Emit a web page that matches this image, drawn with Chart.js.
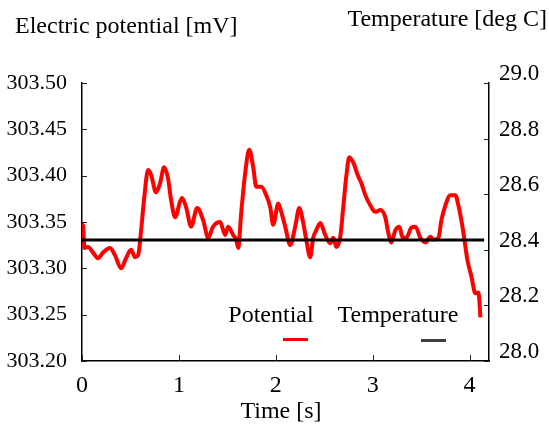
<!DOCTYPE html>
<html>
<head>
<meta charset="utf-8">
<script src="https://cdn.jsdelivr.net/npm/chart.js@4.4.1/dist/chart.umd.min.js"></script>
<style>
  html, body { margin: 0; padding: 0; background: #fff; }
  canvas { display: block; }
</style>
</head>
<body>
<canvas id="chart" width="549" height="428"></canvas>
<script>
// Potential trace (time in s, potential in mV)
const timeS = [
  0, 0.01, 0.025, 0.062, 0.114, 0.165, 0.217, 0.289, 0.341, 0.403,
  0.455, 0.506, 0.548, 0.579, 0.610, 0.640, 0.682, 0.713, 0.764, 0.806,
  0.847, 0.888, 0.919, 0.961, 1.012, 1.033, 1.074, 1.126, 1.188, 1.250,
  1.302, 1.353, 1.426, 1.477, 1.508, 1.560, 1.591, 1.612, 1.643, 1.684,
  1.725, 1.767, 1.798, 1.849, 1.901, 1.942, 1.973, 2.025, 2.056, 2.097,
  2.149, 2.200, 2.242, 2.283, 2.314, 2.355, 2.386, 2.417, 2.459, 2.510,
  2.562, 2.593, 2.624, 2.665, 2.696, 2.727, 2.758, 2.800, 2.851, 2.882,
  2.924, 2.975, 3.027, 3.079, 3.130, 3.161, 3.192, 3.233, 3.275, 3.306,
  3.347, 3.399, 3.440, 3.492, 3.543, 3.595, 3.626, 3.678, 3.709, 3.750,
  3.802, 3.853, 3.884, 3.926, 3.957, 3.977, 4.019, 4.060, 4.091, 4.112
];
const potentialMV = [
  303.330, 303.347, 303.322, 303.323, 303.317, 303.311, 303.317, 303.322, 303.314, 303.300,
  303.311, 303.320, 303.312, 303.314, 303.341, 303.374, 303.406, 303.401, 303.382, 303.392,
  303.409, 303.397, 303.374, 303.355, 303.372, 303.376, 303.366, 303.345, 303.365, 303.352,
  303.333, 303.345, 303.350, 303.336, 303.345, 303.336, 303.331, 303.322, 303.360, 303.403,
  303.428, 303.409, 303.388, 303.388, 303.379, 303.366, 303.347, 303.370, 303.361, 303.345,
  303.325, 303.345, 303.365, 303.349, 303.331, 303.312, 303.333, 303.341, 303.349, 303.336,
  303.327, 303.333, 303.323, 303.334, 303.366, 303.399, 303.420, 303.414, 303.399, 303.392,
  303.379, 303.368, 303.361, 303.363, 303.355, 303.338, 303.328, 303.341, 303.345, 303.334,
  303.333, 303.344, 303.345, 303.333, 303.328, 303.334, 303.331, 303.333, 303.352, 303.368,
  303.379, 303.379, 303.368, 303.345, 303.323, 303.309, 303.291, 303.273, 303.274, 303.247
];
// Temperature stays flat over the run
const tempTimeS = [0, 1, 2, 3, 4, 4.15];
const temperatureC = [28.435, 28.435, 28.435, 28.435, 28.435, 28.435];
const timeTicks = [0, 1, 2, 3, 4];

const FONT = '"Liberation Serif", "DejaVu Serif", serif';
const RED = '#ff0000';
const INK = '#000000';

Chart.defaults.font.family = FONT;
Chart.defaults.font.size = 23;
Chart.defaults.color = INK;

// Titles, inward tick marks and the little legend drawn on top
const decorations = {
  id: 'decorations',
  afterDraw(chart) {
    const ctx = chart.ctx;
    const { x, y, y1 } = chart.scales;
    const area = chart.chartArea;
    ctx.save();
    ctx.strokeStyle = '#222';
    ctx.lineWidth = 1;
    ctx.beginPath();
    x.ticks.forEach(t => {
      const px = Math.round(x.getPixelForValue(t.value)) + 0.5;
      ctx.moveTo(px, area.bottom);
      ctx.lineTo(px, area.bottom - 6);
    });
    y.ticks.forEach(t => {
      const py = Math.round(y.getPixelForValue(t.value)) + 0.5;
      ctx.moveTo(area.left, py);
      ctx.lineTo(area.left + 5, py);
    });
    y1.ticks.forEach(t => {
      const py = Math.round(y1.getPixelForValue(t.value)) + 0.5;
      ctx.moveTo(area.right, py);
      ctx.lineTo(area.right - 5, py);
    });
    ctx.stroke();

    ctx.fillStyle = INK;
    ctx.font = '24px ' + FONT;
    ctx.textBaseline = 'middle';
    ctx.textAlign = 'left';
    ctx.fillText('Electric potential [mV]', 15, 27);
    ctx.textAlign = 'right';
    ctx.fillText('Temperature [deg C]', 547, 20);
    ctx.textAlign = 'center';
    ctx.fillText('Time [s]', 281, 412);

    // legend
    ctx.fillText('Potential', 271, 316);
    ctx.fillText('Temperature', 398, 316);
    ctx.lineWidth = 3;
    ctx.strokeStyle = RED;
    ctx.beginPath(); ctx.moveTo(283, 339.5); ctx.lineTo(308, 339.5); ctx.stroke();
    ctx.strokeStyle = '#404040';
    ctx.beginPath(); ctx.moveTo(421, 340.5); ctx.lineTo(446, 340.5); ctx.stroke();
    ctx.restore();
  }
};

new Chart(document.getElementById('chart'), {
  type: 'line',
  data: {
    datasets: [
      {
        label: 'Temperature',
        data: tempTimeS.map((t, i) => ({ x: t, y: temperatureC[i] })),
        yAxisID: 'y1',
        borderColor: INK,
        borderWidth: 3,
        pointRadius: 0,
      },
      {
        label: 'Potential',
        data: timeS.map((t, i) => ({ x: t, y: potentialMV[i] })),
        yAxisID: 'y',
        borderColor: RED,
        borderWidth: 4,
        pointRadius: 0,
        cubicInterpolationMode: 'monotone',
      },
    ],
  },
  options: {
    responsive: false,
    animation: false,
    layout: { padding: { top: 83, left: 0, right: 0, bottom: 0 } },
    plugins: {
      legend: { display: false },
      tooltip: { enabled: false },
    },
    scales: {
      x: {
        type: 'linear',
        min: 0, max: 4.2,
        grid: { display: false },
        border: { display: true, color: INK, width: 1.5 },
        ticks: { padding: 2, color: INK, font: { size: 24 }, callback: v => String(v) },
        afterBuildTicks: s => { s.ticks = timeTicks.map(v => ({ value: v })); },
        afterFit: s => { s.height = 67; },
      },
      y: {
        position: 'left',
        min: 303.2, max: 303.5,
        grid: { display: false },
        border: { display: true, color: INK, width: 1.5 },
        ticks: { stepSize: 0.05, padding: 7, color: INK, font: { size: 22 }, callback: v => v.toFixed(2) },
        afterFit: s => { s.width = 82; },
      },
      y1: {
        position: 'right',
        min: 28, max: 29,
        grid: { display: false },
        border: { display: true, color: INK, width: 1.5 },
        ticks: { stepSize: 0.2, padding: 2, labelOffset: -9, color: INK, font: { size: 23 }, callback: v => v.toFixed(1) },
        afterFit: s => { s.width = 60; },
      },
    },
  },
  plugins: [decorations],
});
</script>
</body>
</html>
